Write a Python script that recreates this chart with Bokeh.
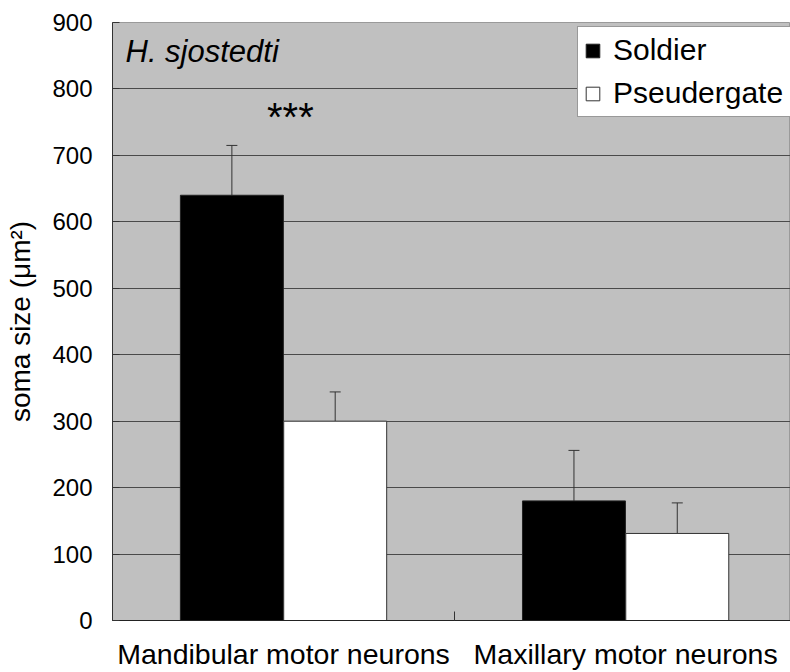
from bokeh.plotting import figure
from bokeh.models import (Range1d, FixedTicker, Whisker, TeeHead, ColumnDataSource,
                          Label)
from bokeh.embed import file_html
from bokeh.resources import INLINE

# ---------------- data ----------------
categories = ["Mandibular motor neurons", "Maxillary motor neurons"]
series_names = ["Soldier", "Pseudergate"]
soldier = [640, 180]
soldier_err = [75, 76]
pseudergate = [300, 131]
pseudergate_err = [44, 46]
y_ticks = [0, 100, 200, 300, 400, 500, 600, 700, 800, 900]
species = "H. sjostedti"
significance = ["***", ""]
y_label = "soma size (\u03bcm\u00b2)"

# ---------------- style ----------------
FONT = "Liberation Sans"
BAR_W = 0.301
OFFSET = 0.151
n = len(categories)
centers = [i + 0.5 for i in range(n)]

p = figure(width=790, height=672,
           x_range=Range1d(0, 1.982), y_range=Range1d(0, 900),
           output_backend="svg", toolbar_location=None,
           min_border_left=112, min_border_right=0,
           min_border_top=22, min_border_bottom=52)

p.background_fill_color = "#c0c0c0"
p.border_fill_color = "white"
p.outline_line_color = "#9a9a9a"

p.xgrid.visible = False
p.ygrid.ticker = FixedTicker(ticks=y_ticks)
p.ygrid.grid_line_color = "#4a4a4a"
p.ygrid.grid_line_width = 1

# y axis
p.yaxis.ticker = FixedTicker(ticks=y_ticks)
p.yaxis.major_tick_in = 7
p.yaxis.major_tick_out = 0
p.yaxis.minor_tick_in = 0
p.yaxis.minor_tick_out = 0
p.yaxis.axis_line_color = "#333333"
p.yaxis.major_tick_line_color = "#333333"
p.yaxis.major_label_text_font = FONT
p.yaxis.major_label_text_font_size = "24px"
p.yaxis.major_label_text_color = "black"
p.yaxis.major_label_standoff = 20
p.yaxis.axis_label = y_label
p.yaxis.axis_label_text_font = FONT
p.yaxis.axis_label_text_font_size = "28px"
p.yaxis.axis_label_text_font_style = "normal"
p.yaxis.axis_label_text_color = "black"
p.yaxis.axis_label_standoff = 13

# x axis
p.xaxis.ticker = FixedTicker(ticks=centers, minor_ticks=list(range(n + 1)))
p.xaxis.major_label_overrides = {c: lab for c, lab in zip(centers, categories)}
p.xaxis.major_tick_in = 0
p.xaxis.major_tick_out = 0
p.xaxis.minor_tick_in = 9
p.xaxis.minor_tick_out = 0
p.xaxis.minor_tick_line_color = "#333333"
p.xaxis.axis_line_color = "#222222"
p.xaxis.major_label_text_font = FONT
p.xaxis.major_label_text_font_size = "28.5px"
p.xaxis.major_label_text_color = "black"
p.xaxis.major_label_standoff = 17

# bars
src_s = ColumnDataSource(dict(x=[c - OFFSET for c in centers], top=soldier,
                              upper=[v + e for v, e in zip(soldier, soldier_err)]))
src_p = ColumnDataSource(dict(x=[c + OFFSET for c in centers], top=pseudergate,
                              upper=[v + e for v, e in zip(pseudergate, pseudergate_err)]))

p.vbar(x="x", top="top", bottom=0, width=BAR_W, source=src_s,
       fill_color="black", line_color="#222222", line_width=1,
       legend_label=series_names[0])
p.vbar(x="x", top="top", bottom=0, width=BAR_W, source=src_p,
       fill_color="white", line_color="#333333", line_width=1,
       legend_label=series_names[1])

for src in (src_s, src_p):
    w = Whisker(source=src, base="x", lower="top", upper="upper", dimension="height",
                line_color="#333333", line_width=1,
                upper_head=TeeHead(size=11, line_color="#333333", line_width=1),
                lower_head=None)
    p.add_layout(w)

# annotations
p.add_layout(Label(x=0.038, y=857, text=species, text_font=FONT,
                   text_font_size="31px", text_font_style="italic",
                   text_color="black", text_baseline="middle"))
for i, s in enumerate(significance):
    if s:
        p.add_layout(Label(x=i + 0.52, y=758, text=s, text_font=FONT,
                           text_font_size="40px", text_align="center",
                           text_baseline="middle", text_color="black"))

# legend
lg = p.legend[0]
lg.location = (465, 503)
lg.background_fill_color = "white"
lg.background_fill_alpha = 1
lg.border_line_color = "#333333"
lg.border_line_width = 1
lg.label_text_font = FONT
lg.label_text_font_size = "30px"
lg.label_text_color = "black"
lg.glyph_width = 17
lg.glyph_height = 17
lg.label_standoff = 12
lg.label_width = 172
lg.padding = 6
lg.spacing = 9
lg.margin = 0

open("out.html", "w").write(file_html(p, INLINE))
